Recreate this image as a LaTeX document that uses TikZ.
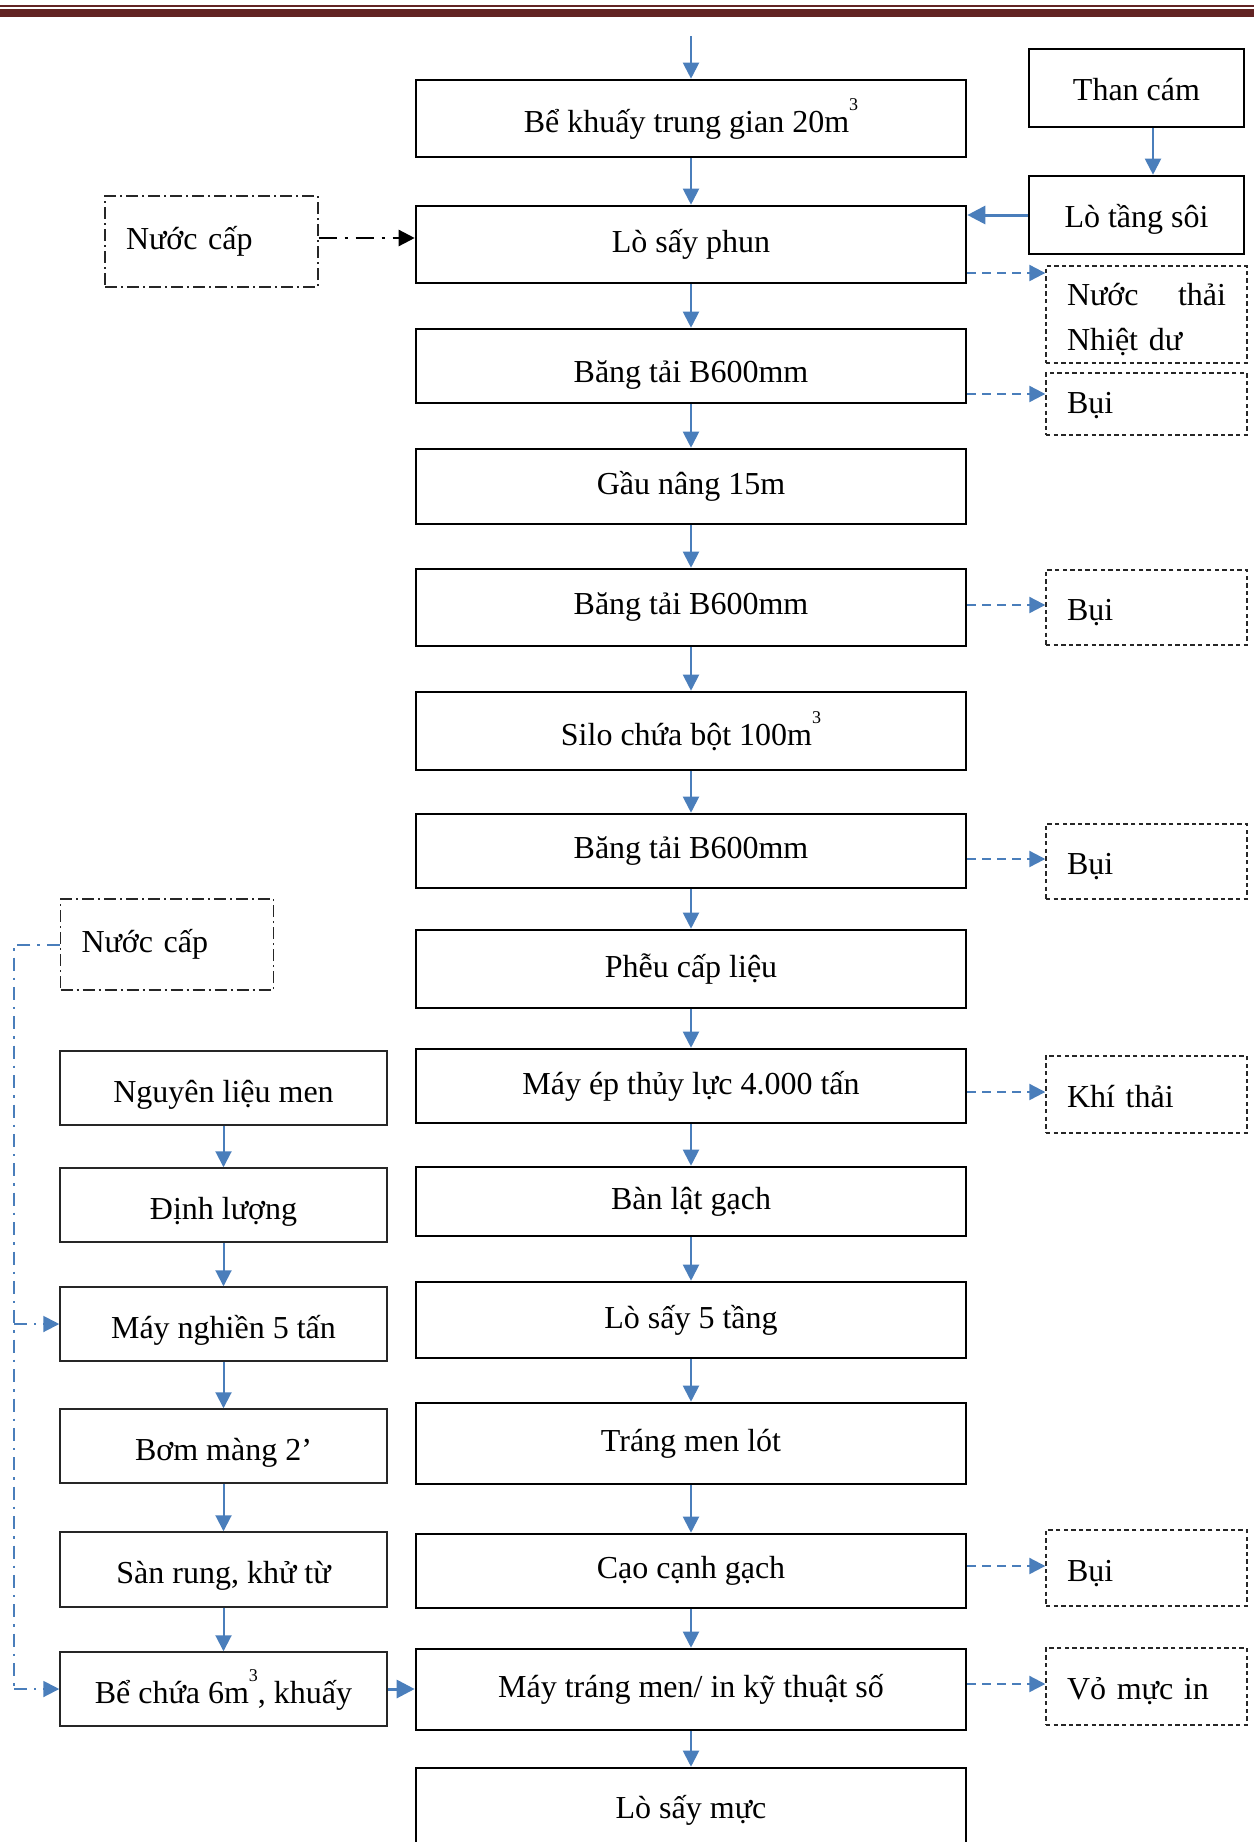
\documentclass[tikz,border=0pt]{standalone}
\usepackage{fontspec}
\setmainfont{Liberation Serif}
\usetikzlibrary{arrows.meta}
\definecolor{flowblue}{HTML}{4A7EBB}
\definecolor{barred}{HTML}{622423}
\newcommand\mcube{\raisebox{11pt}{\fontsize{9}{9}\selectfont 3}}

\begin{document}
\begin{tikzpicture}[x=0.5pt,y=-0.5pt,
  font=\fontsize{16}{22.5}\selectfont,
  mainbox/.style={draw=black,line width=1.3pt,inner sep=0pt,minimum width=275pt},
  sidebox/.style={draw=black,line width=1.3pt,inner sep=0pt,minimum width=107.5pt,minimum height=39pt,
    text height=12.5pt,text depth=0pt},
  leftbox/.style={draw=black!85,line width=0.75pt,inner sep=0pt,minimum width=163.5pt,minimum height=37pt,
    text height=14pt,text depth=0pt},
  outbox/.style={draw=black!85,line width=0.7pt,dash pattern=on 2.2pt off 1.6pt,
    inner xsep=10.5pt,inner ysep=0pt,text width=79.5pt,align=left},
  onebox/.style={outbox,text height=13pt,text depth=0pt},
  waterbox/.style={draw=black!85,line width=0.7pt,dash pattern=on 6pt off 2pt on 1pt off 2pt,
    inner xsep=10.5pt,inner ysep=0pt,text width=85.5pt,align=left,minimum height=45.5pt},
  tip/.style={-{Triangle[length=8pt,width=8pt]}},
  flow/.style={draw=flowblue,line width=1pt,tip},
  thickflow/.style={draw=flowblue,line width=1.5pt,-{Triangle[length=9pt,width=9pt]}},
  outflow/.style={draw=flowblue,line width=1.1pt,dash pattern=on 4.5pt off 3pt,tip},
  supply/.style={draw=black,line width=1.2pt,dash pattern=on 9pt off 4pt on 1.5pt off 4pt,
    -{Triangle[length=8pt,width=8pt]}},
  bluesupply/.style={draw=flowblue,line width=1pt,dash pattern=on 6.5pt off 3.5pt on 1.2pt off 3.5pt}
]
\useasboundingbox (0,0) rectangle (1254,1842);
\clip (0,0) rectangle (1254,1842);

% header rule
\fill[barred] (0,5) rectangle (1254,7);
\fill[barred] (0,9) rectangle (1254,17);

% main process line
\node[mainbox,minimum height=38.5pt] (b1)     at (691,118.5) {Bể khuấy trung gian 20m\mcube};
\node[mainbox,minimum height=38.5pt] (lsp)    at (691,244.5) {Lò sấy phun};
\node[mainbox,minimum height=37pt,text height=16pt,text depth=0pt] (bt1) at (691,366) {Băng tải B600mm};
\node[mainbox,minimum height=37.5pt] (gau)    at (691,486.5) {Gầu nâng 15m};
\node[mainbox,minimum height=38.5pt] (bt2)    at (691,607.5) {Băng tải B600mm};
\node[mainbox,minimum height=39pt]   (silo)   at (691,731)   {Silo chứa bột 100m\mcube};
\node[mainbox,minimum height=37pt]   (bt3)    at (691,851)   {Băng tải B600mm};
\node[mainbox,minimum height=39pt]   (pheu)   at (691,969)   {Phễu cấp liệu};
\node[mainbox,minimum height=37pt]   (mayep)  at (691,1086)  {Máy ép thủy lực 4.000 tấn};
\node[mainbox,minimum height=34.5pt] (banlat) at (691,1201.5){Bàn lật gạch};
\node[mainbox,minimum height=38pt]   (lss)    at (691,1320)  {Lò sấy 5 tầng};
\node[mainbox,minimum height=40.5pt] (trang)  at (691,1443.5){Tráng men lót};
\node[mainbox,minimum height=37pt]   (cao)    at (691,1571)  {Cạo cạnh gạch};
\node[mainbox,minimum height=40.5pt] (maytm)  at (691,1689.5){Máy tráng men/ in kỹ thuật số};
\node[mainbox,minimum height=42pt]   (lsm)    at (691,1810)  {Lò sấy mực};

% fuel supply
\node[sidebox] (tc)  at (1136.5,88)  {Than cám};
\node[sidebox] (lts) at (1136.5,215) {Lò tầng sôi};

% emissions
\node[outbox,minimum height=48.5pt,text height=16.5pt] (nt) at (1146.5,314.5) {Nước \hfill thải\\Nhiệt dư};
\node[onebox,minimum height=31pt,text height=9pt] (bui1) at (1146.5,404) {Bụi};
\node[onebox,minimum height=37.5pt] (bui2) at (1146.5,607.5) {Bụi};
\node[onebox,minimum height=37.5pt] (bui3) at (1146.5,861.5) {Bụi};
\node[onebox,minimum height=38.5pt] (khi)  at (1146.5,1094.5){Khí thải};
\node[onebox,minimum height=38pt]   (bui4) at (1146.5,1568)  {Bụi};
\node[onebox,minimum height=38.5pt] (vo)   at (1146.5,1686.5){Vỏ mực in};

% water supply
\node[waterbox] (nc1) at (211.5,241.5) {Nước cấp};
\node[waterbox] (nc2) at (167,944.5)   {Nước cấp};

% glaze preparation line
\node[leftbox] (nlm)    at (223.5,1088)   {Nguyên liệu men};
\node[leftbox] (dl)     at (223.5,1205)   {Định lượng};
\node[leftbox] (mn)     at (223.5,1324)   {Máy nghiền 5 tấn};
\node[leftbox] (bom)    at (223.5,1446)   {Bơm màng 2’};
\node[leftbox,minimum height=37.5pt] (san) at (223.5,1569.5) {Sàn rung, khử từ};
\node[leftbox] (bechua) at (223.5,1689)   {Bể chứa 6m\mcube, khuấy};

% helper coordinates
\coordinate (feed) at (691,36);
\coordinate (xtc)  at (1153,0);
\coordinate (ynt)  at (0,273);
\coordinate (yb1)  at (0,394);
\coordinate (yb2)  at (0,605);
\coordinate (yb3)  at (0,859);
\coordinate (ykt)  at (0,1092);
\coordinate (yb4)  at (0,1566);
\coordinate (yvo)  at (0,1684);
\coordinate (ync)  at (0,238);
\coordinate (xw)   at (14,0);

% main flow
\draw[flow] (feed) -- (b1.north);
\draw[flow] (b1) -- (lsp);
\draw[flow] (lsp) -- (bt1);
\draw[flow] (bt1) -- (gau);
\draw[flow] (gau) -- (bt2);
\draw[flow] (bt2) -- (silo);
\draw[flow] (silo) -- (bt3);
\draw[flow] (bt3) -- (pheu);
\draw[flow] (pheu) -- (mayep);
\draw[flow] (mayep) -- (banlat);
\draw[flow] (banlat) -- (lss);
\draw[flow] (lss) -- (trang);
\draw[flow] (trang) -- (cao);
\draw[flow] (cao) -- (maytm);
\draw[flow] (maytm) -- (lsm);

% fuel and hot gas
\draw[flow] (tc.south -| xtc) -- (lts.north -| xtc);
\draw[thickflow] (lts.west) -- (lsp.east |- lts.west);
\draw[supply] (nc1.east |- ync) -- (lsp.west |- ync);

% emissions
\draw[outflow] (lsp.east |- ynt) -- (nt.west |- ynt);
\draw[outflow] (bt1.east |- yb1) -- (bui1.west |- yb1);
\draw[outflow] (bt2.east |- yb2) -- (bui2.west |- yb2);
\draw[outflow] (bt3.east |- yb3) -- (bui3.west |- yb3);
\draw[outflow] (mayep.east |- ykt) -- (khi.west |- ykt);
\draw[outflow] (cao.east |- yb4) -- (bui4.west |- yb4);
\draw[outflow] (maytm.east |- yvo) -- (vo.west |- yvo);

% glaze line
\draw[flow] (nlm) -- (dl);
\draw[flow] (dl) -- (mn);
\draw[flow] (mn) -- (bom);
\draw[flow] (bom) -- (san);
\draw[flow] (san) -- (bechua);
\draw[thickflow] (bechua.east) -- (maytm.west |- bechua.east);

% water to the glaze line
\draw[bluesupply] (nc2.west) -- (nc2.west -| xw) -- (bechua.west -| xw);
\draw[bluesupply,tip] (xw |- bechua.west) -- (bechua.west);
\draw[bluesupply,tip] (xw |- mn.west) -- (mn.west);
\end{tikzpicture}
\end{document}
